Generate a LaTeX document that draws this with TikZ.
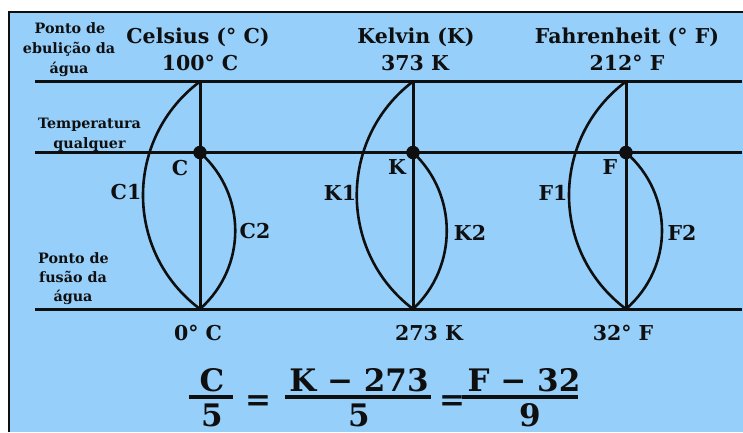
\documentclass[tikz,border=0pt]{standalone}
\usepackage{fontspec}
\setmainfont{DejaVu Serif}
\definecolor{bgblue}{RGB}{150,207,250}
\definecolor{ink}{RGB}{15,15,15}
\begin{document}
\begin{tikzpicture}[x=1pt,y=-1pt,
  lbl/.style={font=\bfseries\fontsize{20.5}{24}\selectfont, text=ink, inner sep=0pt, anchor=base},
  small/.style={font=\bfseries\fontsize{14.3}{16}\selectfont, text=ink, inner sep=0pt, anchor=base},
  eq/.style={font=\bfseries\fontsize{31}{36}\selectfont, text=ink, inner sep=0pt, anchor=base},
  hline/.style={line width=3pt, draw=ink},
  vline/.style={line width=3pt, draw=ink},
  arcline/.style={line width=2.6pt, draw=ink},
  dot/.style={circle, fill=ink, minimum size=13.5pt, inner sep=0pt},
  bar/.style={line width=3.2pt, draw=ink}]
\useasboundingbox (0,0) rectangle (743,432);
\fill[bgblue] (9,12) rectangle (743,432);
\draw[line width=2pt, ink] (9,432) -- (9,12) -- (743,12);

% horizontal reference lines
\coordinate (Lt) at (35,81.5);  \coordinate (Rt) at (742,81.5);
\coordinate (Lm) at (35,152.5); \coordinate (Rm) at (742,152.5);
\coordinate (Lb) at (35,309);   \coordinate (Rb) at (742,309);
\draw[hline] (Lt) -- (Rt);
\draw[hline] (Lm) -- (Rm);
\draw[hline] (Lb) -- (Rb);

% scale points
\coordinate (ct) at (200,81.5); \coordinate (cm) at (200,152.5); \coordinate (cb) at (200,309);
\coordinate (kt) at (413,81.5); \coordinate (km) at (413,152.5); \coordinate (kb) at (413,309);
\coordinate (ft) at (626,81.5); \coordinate (fm) at (626,152.5); \coordinate (fb) at (626,309);

\draw[vline] (ct) -- (cb);
\draw[vline] (kt) -- (kb);
\draw[vline] (ft) -- (fb);

\draw[arcline] (ct) .. controls +(-76,57) and +(-76,-57) .. (cb);
\draw[arcline] (cm) .. controls +(47,42) and +(47,-42) .. (cb);
\draw[arcline] (kt) .. controls +(-75,57) and +(-75,-57) .. (kb);
\draw[arcline] (km) .. controls +(45,42) and +(45,-42) .. (kb);
\draw[arcline] (ft) .. controls +(-76,57) and +(-76,-57) .. (fb);
\draw[arcline] (fm) .. controls +(48,42) and +(48,-42) .. (fb);

\node[dot] (cdot) at (cm) {};
\node[dot] (kdot) at (km) {};
\node[dot] (fdot) at (fm) {};

% left side texts
\node[small] (p1) at (70,33) {Ponto de};
\node[small] (p2) at (69,53) {ebulição da};
\node[small] (p3) at (69,73) {água};
\node[small] (t1) at (89.5,128) {Temperatura};
\node[small] (t2) at (89.5,148) {qualquer};
\node[small] (f1) at (73.5,263) {Ponto de};
\node[small] (f2) at (73,282) {fusão da};
\node[small] (f3) at (73,301) {água};

% headings
\node[lbl] (hc) at (198,43.5) {Celsius (° C)};
\node[lbl] (hc2) at (200,70) {100° C};
\node[lbl] (hk) at (416,43) {Kelvin (K)};
\node[lbl] (hk2) at (415,70) {373 K};
\node[lbl] (hf) at (627,43) {Fahrenheit (° F)};
\node[lbl] (hf2) at (627,70) {212° F};

% curve labels
\node[lbl] (lc) at (180,175.5) {C};
\node[lbl] (lc1) at (126,199.5) {C1};
\node[lbl] (lc2) at (255,238.5) {C2};
\node[lbl] (lk) at (397,174.5) {K};
\node[lbl] (lk1) at (340,200.5) {K1};
\node[lbl] (lk2) at (470,240.5) {K2};
\node[lbl] (lf) at (610,174.5) {F};
\node[lbl] (lf1) at (553,200.5) {F1};
\node[lbl] (lf2) at (682,240.5) {F2};

% bottom values
\node[lbl] (bc) at (198,340.5) {0° C};
\node[lbl] (bk) at (429,340.5) {273 K};
\node[lbl] (bf) at (623,340.5) {32° F};

% equation
\node[eq] (n1) at (212,391) {C};
\node[eq] (d1) at (212,426) {5};
\draw[bar] (189,397) -- (233,397);
\node[eq] (e1) at (258,410) {=};
\node[eq] (n2) at (359,391) {K − 273};
\node[eq] (d2) at (359,426) {5};
\draw[bar] (285,397) -- (431,397);
\node[eq] (e2) at (452,410) {=};
\node[eq] (n3) at (524,391) {F − 32};
\node[eq] (d3) at (530,426) {9};
\draw[bar] (462,397) -- (578,397);
\end{tikzpicture}
\end{document}
